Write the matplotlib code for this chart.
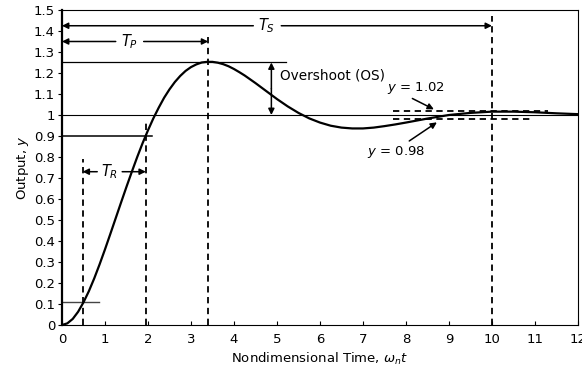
import matplotlib
matplotlib.use("Agg")
import matplotlib.pyplot as plt

plt.rcParams['font.family'] = ['DejaVu Sans']
plt.rcParams['mathtext.fontset'] = 'custom'
plt.rcParams['mathtext.it'] = 'DejaVu Sans:italic'
plt.rcParams['mathtext.rm'] = 'DejaVu Sans'

# step response
t = [0, 0.125, 0.25, 0.375, 0.5, 0.625, 0.75, 0.875, 1.0, 1.125, 1.25, 1.375,
     1.5, 1.625, 1.75, 1.875, 2.0, 2.125, 2.25, 2.375, 2.5, 2.625, 2.75, 2.875,
     3.0, 3.125, 3.25, 3.375, 3.5, 3.625, 3.75, 3.875, 4.0, 4.125, 4.25, 4.375,
     4.5, 4.625, 4.75, 4.875, 5.0, 5.25, 5.5, 5.75, 6.0, 6.25, 6.5, 6.75,
     7.0, 7.25, 7.5, 7.75, 8.0, 8.5, 9.0, 9.5, 10.0, 10.5, 11.0, 11.5, 12.0]
y = [0.0, 0.008, 0.029, 0.063, 0.108, 0.161, 0.222, 0.289, 0.360, 0.434, 0.509,
     0.584, 0.658, 0.730, 0.800, 0.866, 0.927, 0.984, 1.035, 1.082, 1.122, 1.157,
     1.186, 1.210, 1.228, 1.241, 1.250, 1.253, 1.253, 1.249, 1.242, 1.232, 1.219,
     1.204, 1.188, 1.170, 1.152, 1.133, 1.114, 1.095, 1.076, 1.041, 1.010, 0.984,
     0.964, 0.949, 0.940, 0.936, 0.936, 0.940, 0.947, 0.955, 0.964, 0.983, 1.000,
     1.010, 1.016, 1.016, 1.013, 1.008, 1.004]

t_rise = [0.48, 1.95]
y_rise = [0.11, 0.90]
t_peak = 3.4
y_peak = 1.25
t_settle = 10.0
band = [0.98, 1.02]

xticks = list(range(0, 13))
yticks = [0, 0.1, 0.2, 0.3, 0.4, 0.5, 0.6, 0.7, 0.8, 0.9, 1, 1.1, 1.2, 1.3, 1.4, 1.5]
ytick_labels = ['0', '0.1', '0.2', '0.3', '0.4', '0.5', '0.6', '0.7', '0.8', '0.9',
                '1', '1.1', '1.2', '1.3', '1.4', '1.5']

fig = plt.figure(figsize=(5.82, 3.8), dpi=100)
ax = fig.add_axes([0.1065, 0.1447, 0.8865, 0.829])

ax.plot(t, y, color='black', lw=1.6, zorder=5, solid_joinstyle='round')

# reference lines
ax.axhline(1.0, color='black', lw=0.8)
ax.plot([0, 5.2], [y_peak, y_peak], color='black', lw=0.9)
ax.plot([0, 2.1], [y_rise[1], y_rise[1]], color='black', lw=1.1)
ax.plot([0, 0.85], [y_rise[0], y_rise[0]], color='#444444', lw=1.0)

dash = dict(color='black', lw=1.3, ls=(0, (3.5, 2.5)))
ax.plot([t_rise[0], t_rise[0]], [0, 0.79], **dash)
ax.plot([t_rise[1], t_rise[1]], [0, 0.96], **dash)
ax.plot([t_peak, t_peak], [0, 1.37], **dash)
ax.plot([t_settle, t_settle], [0, 1.47], **dash)
ax.plot([7.7, 11.3], [band[1], band[1]], **dash)
ax.plot([7.7, 10.9], [band[0], band[0]], **dash)

arr = dict(arrowstyle='-|>', color='black', lw=1.1, mutation_scale=9,
           shrinkA=0, shrinkB=0)

# T_S
ax.annotate('', xy=(0, 1.425), xytext=(4.45, 1.425), arrowprops=arr)
ax.annotate('', xy=(t_settle, 1.425), xytext=(5.1, 1.425), arrowprops=arr)
ax.text(4.75, 1.425, r'$T_S$', fontsize=10.5, ha='center', va='center')
# T_P
ax.annotate('', xy=(0, 1.35), xytext=(1.25, 1.35), arrowprops=arr)
ax.annotate('', xy=(t_peak, 1.35), xytext=(1.9, 1.35), arrowprops=arr)
ax.text(1.57, 1.35, r'$T_P$', fontsize=10.5, ha='center', va='center')
# T_R
ax.annotate('', xy=(t_rise[0], 0.73), xytext=(0.82, 0.73), arrowprops=arr)
ax.annotate('', xy=(t_rise[1], 0.73), xytext=(1.4, 0.73), arrowprops=arr)
ax.text(1.11, 0.73, r'$T_R$', fontsize=10.5, ha='center', va='center')
# overshoot
ax.annotate('', xy=(4.87, 1.25), xytext=(4.87, 1.125), arrowprops=arr)
ax.annotate('', xy=(4.87, 1.0), xytext=(4.87, 1.125), arrowprops=arr)
ax.text(5.08, 1.19, 'Overshoot (OS)', fontsize=9.8, ha='left', va='center')
# band labels
ax.annotate(r'$y$ = 1.02', xy=(8.65, 1.027), xytext=(7.55, 1.13),
            fontsize=9.5, ha='left', va='center',
            arrowprops=dict(arr, relpos=(0.35, 0.0)))
ax.annotate(r'$y$ = 0.98', xy=(8.72, 0.965), xytext=(7.1, 0.825),
            fontsize=9.5, ha='left', va='center',
            arrowprops=dict(arr, relpos=(0.65, 1.0)))

ax.set_xlim(0, 12)
ax.set_ylim(0, 1.5)
ax.set_xticks(xticks)
ax.set_yticks(yticks)
ax.set_yticklabels(ytick_labels)
ax.tick_params(axis='x', direction='in', length=3, labelsize=9.5, pad=6)
ax.tick_params(axis='y', direction='out', length=3, labelsize=9.5, pad=2)
for s in ax.spines.values():
    s.set_linewidth(0.8)
ax.spines['left'].set_linewidth(1.6)

ax.set_xlabel(r'Nondimensional Time, $\omega_n t$', fontsize=9.5, labelpad=3)
ax.set_ylabel(r'Output, $y$', fontsize=9.5, labelpad=2)

fig.savefig('out.png', dpi=100)
